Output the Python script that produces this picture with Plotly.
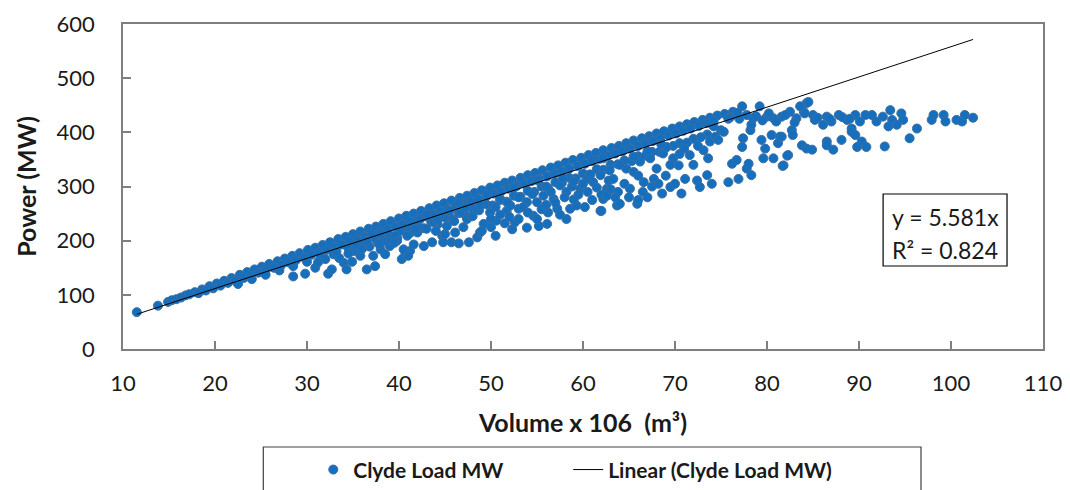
import plotly.graph_objects as go

# Clyde power station: generated load versus stored volume

# upper edge of the dense band
band_top_volume = [17.8, 18.6, 19.4, 20.2, 21.0, 21.8, 22.7, 23.5, 24.3, 25.1,
                   25.9, 26.8, 27.6, 28.4, 29.2, 30.1, 30.9, 31.7, 32.5, 33.4,
                   34.2, 35.0, 35.8, 36.7, 37.5, 38.3, 39.1, 40.0, 40.8, 41.6,
                   42.4, 43.3, 44.1, 44.9, 45.7, 46.6, 47.4, 48.2, 49.0, 49.9,
                   50.7, 51.5, 52.3, 53.2, 54.0, 54.8, 55.6, 56.5, 57.3, 58.1,
                   58.9, 59.8, 60.6, 61.4, 62.2, 63.1, 63.9, 64.7, 65.5, 66.4,
                   67.2, 68.0, 68.8, 69.7, 70.5, 71.3, 72.1, 73.0, 73.8, 74.6, 75.4]
band_top_power = [105, 110, 116, 121, 126, 131, 137, 142, 147, 152,
                  157, 162, 167, 172, 177, 183, 187, 192, 197, 203,
                  207, 212, 217, 222, 226, 231, 236, 241, 246, 250,
                  255, 260, 265, 269, 274, 279, 283, 288, 293, 298,
                  302, 307, 311, 316, 321, 325, 330, 335, 339, 344,
                  349, 353, 358, 362, 367, 371, 375, 380, 385, 389,
                  393, 398, 402, 407, 411, 415, 419, 423, 427, 431, 434]

# middle of the dense band
band_mid_volume = [18.2, 19.0, 19.8, 20.6, 21.4, 22.2, 23.1, 23.9, 24.7, 25.5,
                   26.4, 27.2, 28.0, 28.8, 29.7, 30.5, 31.3, 32.1, 33.0, 33.8,
                   34.6, 35.4, 36.3, 37.1, 37.9, 38.7, 39.6, 40.4, 41.2, 42.0,
                   42.9, 43.7, 44.5, 45.3, 46.2, 47.0, 47.8, 48.6, 49.5, 50.3,
                   51.1, 51.9, 52.8, 53.6, 54.4, 55.2, 56.1, 56.9, 57.7, 58.5,
                   59.4, 60.2, 61.0, 61.8, 62.7, 63.5, 64.3, 65.1, 66.0, 66.8,
                   67.6, 68.4, 69.3, 70.1, 70.9, 71.7, 72.6, 73.4, 74.2]
band_mid_power = [103, 108, 112, 117, 122, 126, 131, 136, 141, 145,
                  150, 155, 160, 164, 169, 174, 179, 183, 188, 193,
                  198, 202, 207, 212, 216, 221, 226, 231, 235, 240,
                  245, 249, 254, 258, 264, 268, 273, 277, 282, 287,
                  291, 296, 301, 305, 310, 314, 319, 324, 328, 333,
                  338, 342, 347, 351, 356, 361, 365, 370, 375, 380,
                  384, 389, 394, 398, 403, 407, 412, 417, 421]

# lower edge of the dense band
band_low_volume = [22.5, 24.0, 25.5, 27.0, 28.5, 30.0, 31.5, 33.0, 34.5, 36.0,
                   37.5, 39.0, 40.5, 42.0, 43.5, 45.0, 46.5, 48.0, 49.5, 51.0,
                   52.5, 54.0, 55.5, 57.0, 58.5, 60.0, 61.5, 63.0, 64.5, 66.0,
                   67.5, 69.0, 70.5, 72.0, 73.5, 75.0,
                   36.8, 38.2, 39.8, 41.2, 42.7, 44.2, 45.8, 47.2, 48.7, 50.2,
                   51.7, 53.2, 54.7, 56.2, 57.7, 59.2, 60.7, 62.2, 63.8, 65.3,
                   66.8, 68.3, 69.8, 71.3, 72.8]
band_low_power = [120, 129, 137, 145, 153, 161, 169, 177, 186, 194,
                  202, 210, 219, 227, 235, 243, 251, 259, 267, 275,
                  283, 292, 300, 308, 316, 324, 332, 340, 348, 356,
                  364, 372, 380, 388, 396, 404,
                  189, 198, 205, 214, 223, 230, 240, 248, 256, 265,
                  272, 281, 290, 297, 306, 315, 322, 331, 341, 347,
                  357, 364, 375, 381, 391]

# small volumes and the scattered cloud below the band
spread_volume = [11.5, 13.8, 14.9, 15.3, 15.8, 16.3, 16.8, 17.2,
                 28.5, 29.8, 30.9, 32.3, 32.7, 32.0, 32.9, 34.0, 34.3, 34.9,
                 35.1, 35.8, 36.5, 37.4, 37.2, 38.0, 38.5, 39.0, 39.8, 40.3,
                 40.7, 41.2, 41.6, 40.9, 40.1, 39.6, 38.7, 38.2, 33.5, 36.0,
                 37.8, 34.5, 31.2, 35.3, 33.2,
                 40.5, 41.0, 42.7, 43.6, 44.7, 44.8, 45.7, 46.5, 46.1, 47.6,
                 48.5, 48.8, 50.5, 50.6, 52.3, 52.6, 51.7, 53.0, 53.9, 54.6,
                 55.2, 56.1, 56.2, 57.2, 58.2, 58.6, 59.3, 60.2, 61.9, 62.2,
                 62.6, 62.8, 63.7, 43.8, 45.2, 47.4, 49.2, 49.9, 48.4, 46.7,
                 44.5, 42.3, 41.2, 53.9, 55.7, 56.8, 58.2, 59.7, 61.1, 61.9,
                 62.9, 60.4, 57.5, 55.0, 52.1, 51.0,
                 42.0, 43.0, 44.0, 45.0, 46.0, 47.0, 48.0, 49.0, 50.0, 50.0,
                 51.0, 51.5, 52.0, 53.0, 53.5, 54.0, 55.0, 55.5, 56.0, 56.5,
                 57.0, 57.5, 58.0, 58.8, 59.0, 59.5, 60.0, 60.5, 61.0, 61.5,
                 62.0, 60.8, 59.0, 57.8, 56.0, 54.5, 53.0, 51.8, 50.5, 48.8,
                 47.2, 45.5, 44.2, 43.0, 41.8, 39.5, 38.0, 36.5, 46.5, 49.5,
                 52.5, 55.0,
                 62.2, 62.0, 62.6, 63.3, 64.0, 64.7, 65.1, 65.5, 65.9, 66.2,
                 66.6, 67.0, 67.3, 67.7, 68.0, 68.6, 68.7, 69.1, 69.5, 69.8,
                 70.4, 70.7, 71.1, 71.6, 72.4, 72.7, 73.5, 73.6, 74.0, 73.1,
                 73.8, 74.4, 75.3, 74.7, 74.2, 75.8, 76.2, 76.7, 76.9, 77.4,
                 77.3, 77.8, 78.0, 78.3, 78.2, 78.3, 79.4, 79.8, 79.6, 80.7,
                 80.5, 81.2, 81.4, 81.8, 82.3, 82.7, 82.8, 83.8, 84.3,
                 63.0, 63.8, 64.5, 65.0, 66.0, 66.5, 67.5, 68.2, 69.0, 69.5,
                 70.0, 70.5, 71.0, 72.0, 72.5, 64.0, 65.5, 67.0, 68.5, 66.0, 63.5]
spread_power = [68, 80, 87, 90, 92, 95, 99, 101,
                134, 139, 150, 139, 147, 166, 175, 159, 147, 161,
                181, 172, 147, 153, 172, 184, 175, 190, 200, 166,
                175, 181, 193, 209, 218, 209, 200, 203, 168, 185,
                194, 176, 160, 192, 180,
                184, 172, 190, 197, 209, 197, 197, 195, 215, 197,
                206, 215, 209, 237, 221, 234, 255, 259, 224, 246,
                227, 231, 252, 259, 240, 259, 265, 262, 255, 277,
                296, 311, 265, 234, 227, 240, 231, 252, 259, 252,
                246, 240, 227, 271, 283, 277, 290, 296, 308, 321,
                330, 314, 302, 271, 265, 277,
                215, 222, 218, 212, 236, 225, 245, 218, 240, 225,
                248, 232, 244, 240, 262, 252, 240, 258, 266, 290,
                270, 248, 280, 300, 276, 285, 305, 290, 275, 298,
                285, 322, 310, 316, 300, 286, 280, 270, 262, 265,
                262, 255, 238, 248, 222, 196, 212, 200, 270, 285,
                298, 312,
                352, 255, 283, 314, 268, 333, 296, 327, 268, 346,
                308, 280, 352, 314, 333, 287, 361, 373, 299, 352,
                339, 287, 314, 358, 311, 299, 321, 352, 305, 367,
                383, 392, 401, 386, 411, 308, 342, 349, 314, 389,
                373, 333, 342, 321, 404, 414, 386, 370, 352, 352,
                395, 380, 392, 339, 358, 404, 395, 376, 370,
                295, 290, 305, 280, 320, 290, 300, 305, 320, 340,
                305, 360, 370, 340, 375, 340, 355, 365, 378, 275, 280]

# high-volume plateau near full output
plateau_volume = [76.3, 77.3, 77.8, 78.5, 79.2, 80.0, 80.7, 81.6, 82.5, 83.2,
                  84.0, 84.3, 83.6, 84.5, 84.1, 85.0, 85.2, 86.1, 86.5, 87.0,
                  87.8, 88.7, 89.2, 89.6, 90.1, 90.7, 91.4, 91.9, 92.6, 93.4,
                  93.6, 93.2, 94.1, 94.6, 94.8, 96.3, 95.5, 97.9, 98.1, 99.2,
                  99.4, 100.6, 101.2, 101.5, 102.4,
                  81.6, 82.2, 81.7, 84.9, 86.5, 86.5, 87.2, 88.1, 89.2, 89.6,
                  89.8, 90.3, 90.8, 92.8,
                  76.0, 77.0, 78.8, 79.5, 80.2, 81.0, 82.0, 83.0, 85.5, 86.8,
                  88.2, 89.0, 75.8, 76.8]
plateau_power = [438, 448, 432, 426, 448, 429, 426, 429, 438, 426,
                 438, 454, 448, 456, 435, 432, 423, 414, 429, 420,
                 432, 423, 407, 432, 420, 432, 432, 420, 429, 441,
                 423, 411, 414, 435, 423, 407, 389, 423, 432, 432,
                 420, 423, 420, 432, 427,
                 392, 357, 338, 368, 383, 376, 368, 386, 401, 395,
                 373, 383, 373, 374,
                 428, 425, 430, 422, 435, 420, 432, 418, 427, 425,
                 428, 425, 425, 436]

# fitted trend through the origin
TREND_SLOPE = 5.581
TREND_R2 = 0.824

volume = band_top_volume + band_mid_volume + band_low_volume + spread_volume + plateau_volume
power = band_top_power + band_mid_power + band_low_power + spread_power + plateau_power

FONT = "Lato"
TEXT = "#1a1a1a"
AXIS = "#7f7f7f"

fig = go.Figure()
fig.add_trace(go.Scatter(
    x=volume, y=power, mode="markers", name="Clyde Load MW",
    marker=dict(size=9, color="#1470bf", line=dict(color="#3a6ea3", width=1)),
    legend="legend",
))

x_lo, x_hi = min(volume), max(volume)
fig.add_trace(go.Scatter(
    x=[x_lo, x_hi], y=[TREND_SLOPE * x_lo, TREND_SLOPE * x_hi],
    mode="lines", name="Linear (Clyde Load MW)",
    line=dict(color="#000000", width=1),
    legend="legend2",
))

axis_common = dict(
    showgrid=False, zeroline=False, showline=True, mirror=True,
    linecolor=AXIS, linewidth=1.5, ticks="inside", ticklen=8,
    tickcolor=AXIS, tickwidth=1.5,
    tickfont=dict(family=FONT, size=22, color=TEXT),
)

legend_font = dict(family=FONT, size=21, color=TEXT, weight="bold")

fig.update_layout(
    width=1070, height=490,
    margin=dict(l=123, r=27, t=24, b=141, autoexpand=False),
    paper_bgcolor="white", plot_bgcolor="white",
    xaxis=dict(range=[10, 110], dtick=10, ticklabelstandoff=14,
               title=dict(text="Volume x 106\u00a0 (m\u00b3)", standoff=19,
                          font=dict(family=FONT, size=25, color=TEXT, weight="bold")),
               **axis_common),
    yaxis=dict(range=[0, 600], dtick=100, ticklabelstandoff=22,
               title=dict(text="Power (MW)", standoff=13,
                          font=dict(family=FONT, size=25, color=TEXT, weight="bold")),
               **axis_common),
    showlegend=True,
    legend=dict(orientation="h", x=0.2068, y=-0.372, xanchor="left", yanchor="middle",
                bgcolor="rgba(0,0,0,0)", font=legend_font),
    legend2=dict(orientation="h", x=0.4839, y=-0.372, xanchor="left", yanchor="middle",
                 bgcolor="rgba(0,0,0,0)", font=legend_font),
)

# frame around the legend
fig.add_shape(type="rect", xref="paper", yref="paper",
              x0=0.1525, x1=0.8674, y0=-0.3015, y1=-0.48,
              line=dict(color="#404040", width=1.2), fillcolor="rgba(0,0,0,0)")

# trend equation box
fig.add_shape(type="rect", xref="paper", yref="paper",
              x0=0.8262, x1=0.9609, y0=0.4769, y1=0.2554,
              line=dict(color="#000000", width=1.2), fillcolor="white")
fig.add_annotation(xref="paper", yref="paper", x=0.8335, y=(349 - 217) / 325,
                   xanchor="left", yanchor="middle", showarrow=False,
                   text=f"y = {TREND_SLOPE:.3f}x",
                   font=dict(family=FONT, size=23, color=TEXT))
fig.add_annotation(xref="paper", yref="paper", x=0.8335, y=(349 - 250) / 325,
                   xanchor="left", yanchor="middle", showarrow=False,
                   text=f"R\u00b2 = {TREND_R2:.3f}",
                   font=dict(family=FONT, size=23, color=TEXT))

fig.write_html("out.html")
